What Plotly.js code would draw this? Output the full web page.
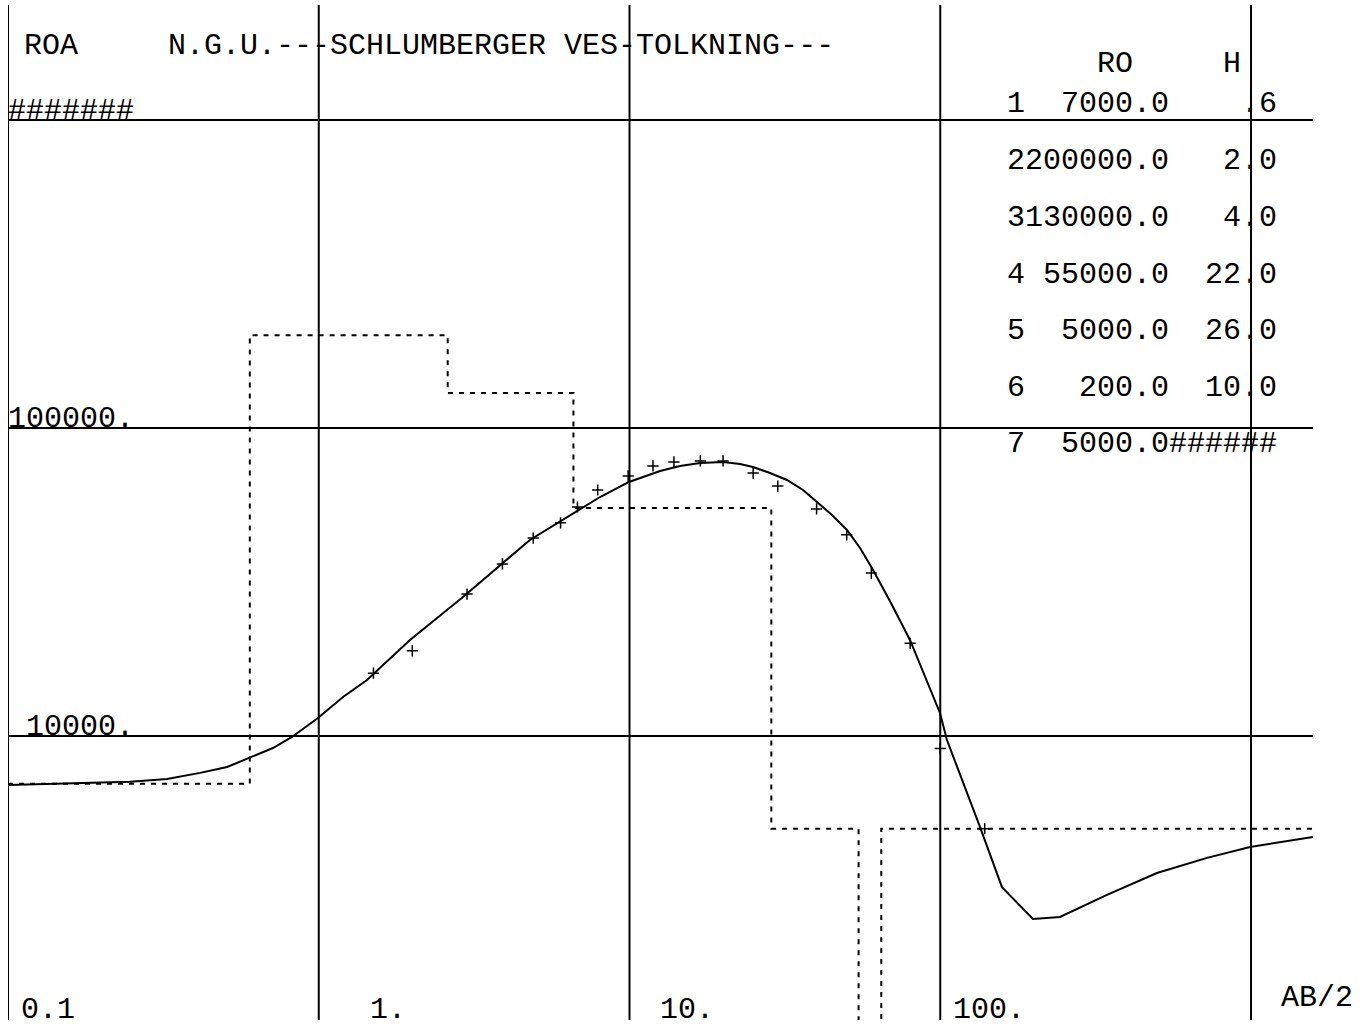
<!DOCTYPE html>
<html><head><meta charset="utf-8">
<script src="https://cdn.plot.ly/plotly-3.0.1.min.js"></script>
<style>html,body{margin:0;padding:0;background:#fff;} #chart{width:1372px;height:1028px;}</style>
</head><body><div id="chart"></div>
<script>
// ---- data ----
const layerRho = [7000, 200000, 130000, 55000, 5000, 200, 5000];
const layerH = [0.6, 2.0, 4.0, 22.0, 26.0, 10.0];
const modelStartAB = 0.1, modelEndAB = 1600;

const curveAB  = [0.1, 0.247, 0.325, 0.415, 0.507, 0.592, 0.712, 0.82, 0.994, 1.197, 1.43, 1.966, 2.912, 4.78, 7.30, 8.04, 9.96, 11.22, 12.54, 14.54, 16.86, 20.0, 22.68, 24.97, 28.32, 32.12, 36.17, 40.12, 44.83, 50.1, 55.2, 60.8, 69.4, 79.9, 99.8, 105.1, 134.3, 158.0, 198.8, 242.8, 344, 498, 722, 993, 1583];
const curveRho = [6930, 7100, 7250, 7590, 7930, 8480, 9140, 9930, 11440, 13390, 15200, 20500, 28270, 43300, 56230, 59700, 66800, 69870, 72530, 75270, 76970, 77560, 76410, 74710, 71440, 67800, 62910, 57500, 52190, 46650, 40770, 34590, 27030, 20500, 11880, 9700, 5060, 3230, 2545, 2585, 3050, 3590, 4020, 4360, 4700];

const fieldAB  = [1.5, 2.0, 3.0, 3.9, 4.9, 6.0, 6.8, 7.9, 9.9, 11.9, 13.9, 16.9, 20, 25, 30, 40, 50, 60, 80, 100, 139];
const fieldRho = [16000, 18900, 28900, 36200, 43900, 49200, 55400, 62900, 69900, 75300, 77600, 78200, 78200, 71400, 64800, 54600, 45000, 33800, 20000, 9100, 5000];

const xGrid = [0.1, 1, 10, 100, 1000];
const xTickLabels = ['0.1', '1.', '10.', '100.'];
const yGrid = [1e6, 1e5, 1e4];
const yTickLabels = ['#######', '100000.', ' 10000.'];
const titleText = 'ROA     N.G.U.---SCHLUMBERGER VES-TOLKNING---';
const xAxisName = 'AB/2';
const tableHeader = '     RO     H';

// ---- layout constants ----
const xr = [-1, 3.1995], yr = [3.0779, 6.3734];
const L = 8, R = 59, T = 5, B = 8, W = 1372, H = 1028;
const pw = W - L - R, ph = H - T - B;
const FONT = {family: 'Liberation Mono, DejaVu Sans Mono, monospace', size: 30, color: '#000'};
const nb = s => s.replace(/ /g, '\u00A0');
const px2x = p => (p - L) / pw;
const base2y = b => (H - B - b - 10) / ph;

// model step line from layers
const modelX = [modelStartAB], modelY = [layerRho[0]];
let depth = 0;
for (let i = 0; i < layerH.length; i++) {
  depth += layerH[i];
  modelX.push(depth, depth);
  modelY.push(layerRho[i], layerRho[i + 1]);
}
modelX.push(modelEndAB); modelY.push(layerRho[layerRho.length - 1]);

const traces = [];
const gl = {color: '#000', width: 2};
xGrid.forEach(v => traces.push({x: [v, v], y: [Math.pow(10, yr[0]), Math.pow(10, yr[1])], mode: 'lines', line: gl, hoverinfo: 'skip'}));
yGrid.forEach(v => traces.push({x: [Math.pow(10, xr[0]), Math.pow(10, xr[1])], y: [v, v], mode: 'lines', line: gl, hoverinfo: 'skip'}));
traces.push({x: modelX, y: modelY, mode: 'lines', line: {color: '#000', width: 2, dash: '5px,6px'}, hoverinfo: 'skip'});
traces.push({x: curveAB, y: curveRho, mode: 'lines', line: {color: '#000', width: 2}, hoverinfo: 'skip'});
traces.push({x: fieldAB, y: fieldRho, mode: 'markers', marker: {symbol: 'cross-thin', size: 8, color: '#000', line: {color: '#000', width: 1.5}}, hoverinfo: 'skip'});

// annotations
const ann = [];
const txt = (text, xp, yp, extra) => Object.assign({text: nb(text), xref: 'paper', yref: 'paper', x: xp, y: yp, xanchor: 'left', yanchor: 'bottom', showarrow: false, font: FONT}, extra || {});

ann.push(txt(titleText, px2x(22), base2y(55)));

// table rows
function fmtRho(v) { return v.toFixed(1).padStart(8, ' '); }
function fmtH(h) { let s = h.toFixed(1); if (h < 1) s = s.replace(/^0/, ''); return s.padStart(6, ' '); }
const rowBase = [113, 170, 227, 284, 340, 397, 453];
ann.push(txt(tableHeader, px2x(1005), base2y(73)));
layerRho.forEach((r, i) => {
  const hs = i < layerH.length ? fmtH(layerH[i]) : '######';
  ann.push(txt(String(i + 1) + fmtRho(r) + hs, px2x(1005), base2y(rowBase[i])));
});

// y labels
yGrid.forEach((v, i) => ann.push({text: nb(yTickLabels[i]), xref: 'paper', yref: 'y', x: 0, y: Math.log10(v), xanchor: 'left', yanchor: 'bottom', yshift: -10, xshift: -2, showarrow: false, font: FONT}));
// x labels
const xShifts = [11, 49, 28, 11];
xTickLabels.forEach((t, i) => ann.push({text: nb(t), xref: 'x', yref: 'paper', x: Math.log10(xGrid[i]), y: 0, xanchor: 'left', yanchor: 'bottom', yshift: -9, xshift: xShifts[i], showarrow: false, font: FONT}));
ann.push({text: xAxisName, xref: 'x', yref: 'paper', x: Math.log10(xGrid[4]), y: 0, xanchor: 'left', yanchor: 'bottom', yshift: 3, xshift: 28, showarrow: false, font: FONT});

const layout = {
  width: W, height: H, margin: {l: L, r: R, t: T, b: B, pad: 0},
  paper_bgcolor: '#fff', plot_bgcolor: '#fff', showlegend: false,
  xaxis: {type: 'log', range: xr, visible: false, fixedrange: true},
  yaxis: {type: 'log', range: yr, visible: false, fixedrange: true},
  annotations: ann
};
Plotly.newPlot('chart', traces, layout, {displayModeBar: false, staticPlot: true});
</script></body></html>
